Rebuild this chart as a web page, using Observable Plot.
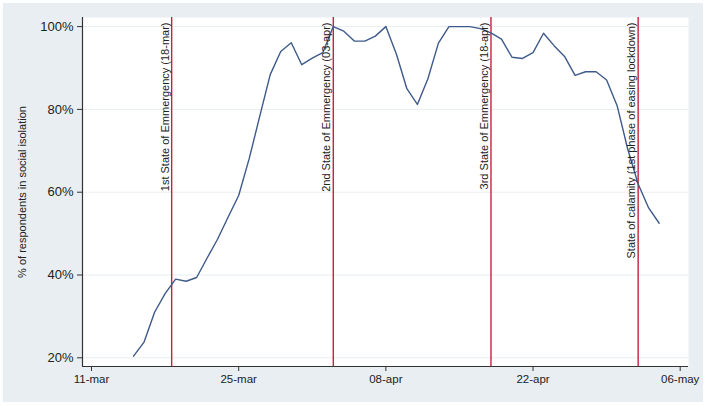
<!DOCTYPE html>
<html>
<head>
<meta charset="utf-8">
<script src="https://cdn.jsdelivr.net/npm/d3@7"></script>
<script src="https://cdn.jsdelivr.net/npm/@observablehq/plot@0.6"></script>
<style>
  html, body { margin: 0; padding: 0; background: #ffffff; }
  #panel { position: absolute; left: 3px; top: 3px; width: 700px; height: 399px; background: #e8eef1; }
  #panel svg { background: transparent; font-family: "Liberation Sans", Arial, sans-serif; color: #333; }
  g[aria-label^="x-axis"] text { font-size: 11.5px; fill: #222; }
  g[aria-label^="y-axis"] text { font-size: 13px; fill: #222; }
</style>
</head>
<body>
<div id="panel"></div>
<script>
// ---- data ----
const dates = [
  "2020-03-15","2020-03-16","2020-03-17","2020-03-18","2020-03-19","2020-03-20","2020-03-21",
  "2020-03-22","2020-03-23","2020-03-24","2020-03-25","2020-03-26","2020-03-27","2020-03-28",
  "2020-03-29","2020-03-30","2020-03-31","2020-04-01","2020-04-02","2020-04-03","2020-04-04",
  "2020-04-05","2020-04-06","2020-04-07","2020-04-08","2020-04-09","2020-04-10","2020-04-11",
  "2020-04-12","2020-04-13","2020-04-14","2020-04-15","2020-04-16","2020-04-17","2020-04-18",
  "2020-04-19","2020-04-20","2020-04-21","2020-04-22","2020-04-23","2020-04-24","2020-04-25",
  "2020-04-26","2020-04-27","2020-04-28","2020-04-29","2020-04-30","2020-05-01","2020-05-02",
  "2020-05-03","2020-05-04"
];
const isolationPct = [
  20.4, 23.8, 31.0, 35.5, 39.0, 38.5, 39.4,
  44.1, 48.7, 54.0, 59.2, 68.1, 78.3, 88.4,
  94.0, 96.1, 90.8, 92.4, 93.7, 100.0, 98.9,
  96.5, 96.5, 97.7, 100.0, 93.4, 85.0, 81.2,
  87.4, 96.0, 100.0, 100.0, 100.0, 99.5, 98.5,
  97.0, 92.6, 92.3, 93.7, 98.4, 95.4, 92.8,
  88.2, 89.1, 89.1, 87.1, 80.9, 70.5, 62.0,
  56.2, 52.5
];
const eventDates = ["2020-03-18T15:00Z", "2020-04-03", "2020-04-18", "2020-05-02"];
const eventLabels = [
  "1st State of Emmergency (18-mar)",
  "2nd State of Emmergency (03-apr)",
  "3rd State of Emmergency (18-apr)",
  "State of calamity (1st phase of easing lockdown)"
];
const xTickDates = ["2020-03-11", "2020-03-25", "2020-04-08", "2020-04-22", "2020-05-06"];
const yTicks = [20, 40, 60, 80, 100];
const yTitle = "% of respondents in social isolation";

// ---- build tables ----
const series = dates.map((d, i) => ({date: new Date(d), value: isolationPct[i]}));
const events = eventDates.map((d, i) => ({date: new Date(d), label: eventLabels[i]}));
const xTicks = xTickDates.map(d => new Date(d));
const DAY = 864e5;
const xDomain = [new Date(+new Date("2020-03-11") - 0.857 * DAY), new Date(+new Date("2020-05-06") + 0.79 * DAY)];
const yDomain = [17.9, 102.2];
const fmt = d3.utcFormat("%d-%b");

const chart = Plot.plot({
  width: 700,
  height: 399,
  marginLeft: 79,
  marginTop: 14,
  marginRight: 15,
  marginBottom: 36,
  x: {type: "utc", domain: xDomain, ticks: xTicks, tickFormat: d => fmt(d).toLowerCase(), tickSize: 5, tickPadding: 3, label: null},
  y: {domain: yDomain, ticks: yTicks, tickFormat: d => d + "%", tickSize: 5, tickPadding: 4, label: null},
  marks: [
    Plot.frame({fill: "#ffffff", stroke: null}),
    Plot.ruleY(yTicks, {stroke: "#e8eef1", strokeWidth: 1}),
    Plot.ruleX(events, {x: "date", stroke: "#c8203e", strokeWidth: 1.4}),
    Plot.line(series, {x: "date", y: "value", stroke: "#3e5a8a", strokeWidth: 1.4}),
    Plot.text(events, {x: "date", frameAnchor: "top", text: "label", rotate: -90, textAnchor: "end", lineAnchor: "bottom", dx: -3, dy: 5, fontSize: 11, fill: "#222"}),
    Plot.text([yTitle], {frameAnchor: "left", rotate: -90, textAnchor: "middle", dx: -60, fontSize: 11, fill: "#222"}),
    Plot.ruleY([yDomain[0]], {stroke: "#333", strokeWidth: 1.2}),
    Plot.ruleX([xDomain[0]], {stroke: "#333", strokeWidth: 1.2})
  ]
});
document.getElementById("panel").appendChild(chart);
</script>
</body>
</html>
